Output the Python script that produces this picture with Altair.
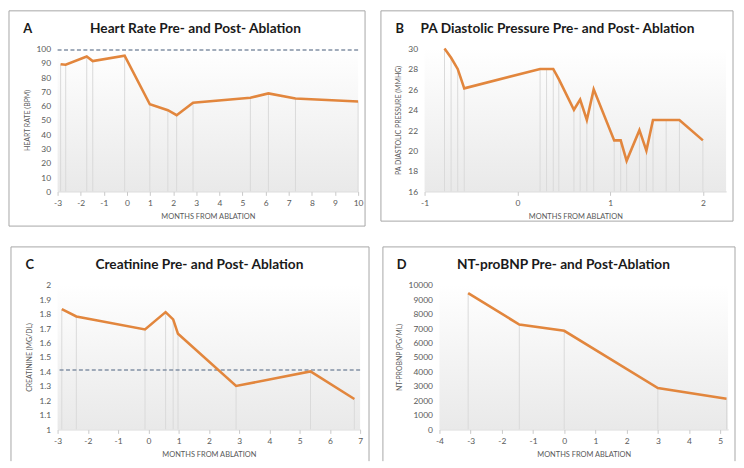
import altair as alt
import pandas as pd

# ---------------- data ----------------
hr_months = [-2.87, -2.65, -1.74, -1.48, -0.10, 0.99, 1.77, 2.15, 2.86, 5.34, 6.12, 7.29, 10.0]
hr_values = [89, 88.7, 94.4, 91.2, 95, 61, 56.8, 53.3, 62, 65.6, 68.6, 65, 62.9]
hr_ref = 99

pa_months = [-0.785, -0.714, -0.643, -0.572, 0.245, 0.315, 0.387, 0.447, 0.610, 0.677,
             0.749, 0.823, 1.044, 1.114, 1.178, 1.316, 1.391, 1.462, 1.604, 1.747, 2.0]
pa_values = [30, 29.1, 28, 26.1, 28, 28, 28, 27, 24, 25, 23, 26, 21, 21, 19, 22, 20, 23, 23, 23, 21]

cr_months = [-2.86, -2.38, -0.11, 0.57, 0.82, 0.98, 2.90, 5.36, 6.81]
cr_values = [1.83, 1.78, 1.69, 1.81, 1.76, 1.66, 1.30, 1.40, 1.21]
cr_ref = 1.41

bnp_months = [-3.08, -1.44, 0.0, 3.0, 5.2]
bnp_values = [9410, 7240, 6810, 2860, 2120]

hr_yticks = [0, 10, 20, 30, 40, 50, 60, 70, 80, 90, 100]
pa_yticks = [16, 18, 20, 22, 24, 26, 28, 30]
cr_yticks = [1, 1.1, 1.2, 1.3, 1.4, 1.5, 1.6, 1.7, 1.8, 1.9, 2]
bnp_yticks = [0, 1000, 2000, 3000, 4000, 5000, 6000, 7000, 8000, 9000, 10000]

hr_xticks = list(range(-3, 11))
pa_xticks = [-1, 0, 1, 2]
cr_xticks = list(range(-3, 8))
bnp_xticks = list(range(-4, 6))

# ---------------- styling ----------------
FONT = "Lato"
LINE = "#E2863D"
FRAME = "#a6a6a6"
DROP = "#dadada"
REFC = "#8391a5"
TXT = "#595959"
ONE = pd.DataFrame({"k": [0]})


def panel(months, values, letter, title, ytitle, xdom, xticks, ydom, yticks,
          w, h, fl, ft, fr, fb, title_x, closed=True, ref=None):
    df = pd.DataFrame({"month": months, "value": values})
    x = alt.X("month:Q",
              scale=alt.Scale(domain=xdom, nice=False, zero=False),
              axis=alt.Axis(values=xticks, title="MONTHS FROM ABLATION",
                            labelExpr="'' + datum.value", labelOverlap=False,
                            labelFlush=False))
    y = alt.Y("value:Q",
              scale=alt.Scale(domain=ydom, nice=False, zero=False),
              axis=alt.Axis(values=yticks, title=ytitle,
                            labelExpr="'' + datum.value", labelOverlap=False,
                            labelFlush=False))
    one = alt.Chart(ONE)
    grad = alt.Gradient(gradient="linear", x1=0, x2=0, y1=0, y2=1,
                        stops=[alt.GradientStop(color="#ffffff", offset=0),
                               alt.GradientStop(color="#e9e9e9", offset=1)])
    layers = [
        one.mark_rect(fill=grad).encode(x=alt.value(0), x2=alt.value(w),
                                        y=alt.value(0), y2=alt.value(h)),
        alt.Chart(df).mark_rule(color=DROP, strokeWidth=1).encode(
            x=x, y=y, y2=alt.datum(ydom[0])),
    ]
    if ref is not None:
        refdf = pd.DataFrame({"value": [ref]})
        layers.append(alt.Chart(refdf).mark_rule(color=REFC, strokeDash=[4, 2.5],
                                                 strokeWidth=1.5).encode(y=y))
    layers.append(alt.Chart(df).mark_line(color=LINE, strokeWidth=2.6).encode(x=x, y=y))
    if closed:
        layers.append(one.mark_rect(fillOpacity=0, stroke=FRAME, strokeWidth=1).encode(
            x=alt.value(-fl), x2=alt.value(w + fr), y=alt.value(-ft), y2=alt.value(h + fb)))
    else:
        layers += [
            one.mark_rule(color=FRAME, strokeWidth=1).encode(
                x=alt.value(-fl), x2=alt.value(w + fr), y=alt.value(-ft)),
            one.mark_rule(color=FRAME, strokeWidth=1).encode(
                x=alt.value(-fl), y=alt.value(-ft), y2=alt.value(h + fb)),
            one.mark_rule(color=FRAME, strokeWidth=1).encode(
                x=alt.value(w + fr), y=alt.value(-ft), y2=alt.value(h + fb)),
        ]
    layers += [
        one.mark_text(text=letter, fontSize=13, fontWeight="bold", color="#1a1a1a",
                      align="center", baseline="middle", font=FONT).encode(
            x=alt.value(-fl + 19), y=alt.value(-ft + 18)),
        one.mark_text(text=title, fontSize=13.8, fontWeight="bold", color="#1a1a1a",
                      align="center", baseline="middle", font=FONT).encode(
            x=alt.value(title_x), y=alt.value(-ft + 18)),
    ]
    return alt.layer(*layers).properties(width=w, height=h)


A = panel(hr_months, hr_values, "A", "Heart Rate Pre- and Post- Ablation", "HEART RATE (BPM)",
          [-3, 10], hr_xticks, [0, 100], hr_yticks,
          w=303, h=144, fl=49, ft=38, fr=7, fb=35, title_x=139, ref=hr_ref)
B = panel(pa_months, pa_values, "B", "PA Diastolic Pressure Pre- and Post- Ablation",
          "PA DIASTOLIC PRESSURE (MMHG)",
          [-1, 2.25], pa_xticks, [16, 30], pa_yticks,
          w=304, h=144, fl=44, ft=38, fr=7, fb=30, title_x=134)
C = panel(cr_months, cr_values, "C", "Creatinine Pre- and Post- Ablation", "CREATININE (MG/DL)",
          [-3, 7], cr_xticks, [1, 2], cr_yticks,
          w=305, h=146, fl=47, ft=38, fr=9, fb=32, title_x=143, closed=False, ref=cr_ref)
D = panel(bnp_months, bnp_values, "D", "NT-proBNP Pre- and Post-Ablation", "NT-PROBNP (PG/ML)",
          [-4, 5.25], bnp_xticks, [0, 10000], bnp_yticks,
          w=291, h=146, fl=57, ft=38, fr=7, fb=32, title_x=125, closed=False)

top = alt.hconcat(A, B, spacing=14)
bottom = alt.hconcat(C, D, spacing=12)

chart = (
    alt.vconcat(top, bottom, spacing=19, padding=0)
    .configure(font=FONT)
    .configure_view(strokeWidth=0)
    .configure_axis(grid=False, labelFont=FONT, titleFont=FONT, labelColor=TXT,
                    titleColor=TXT, titleFontWeight="normal", labelFontSize=8.5)
    .configure_axisX(domainColor="#d0d0d0", tickColor="#c8c8c8", tickSize=4,
                     labelPadding=3, titleFontSize=7.5, titlePadding=6)
    .configure_axisY(domain=False, ticks=False, labelPadding=7, titleFontSize=7,
                     titlePadding=6)
)

chart.save("out.html", embed_options={"renderer": "svg", "actions": False})
